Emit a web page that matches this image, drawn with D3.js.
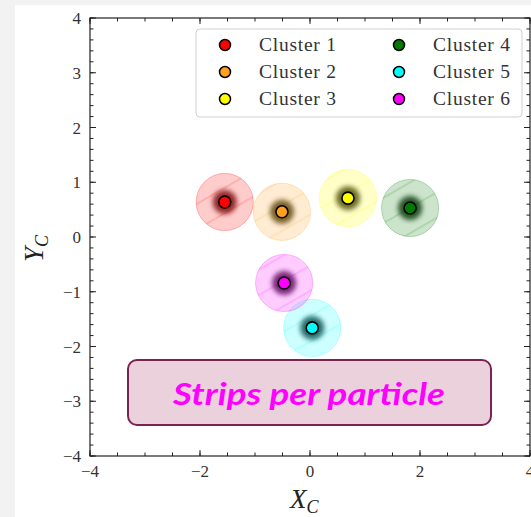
<!DOCTYPE html>
<html>
<head>
<meta charset="utf-8">
<script src="https://cdn.jsdelivr.net/npm/d3@7/dist/d3.min.js"></script>
<style>
  html, body { margin: 0; padding: 0; background: #f2f2f2; }
  svg { display: block; }
</style>
</head>
<body>
<svg id="chart" width="531" height="517"></svg>
<script>
// Cluster data
const clusterNames = ["Cluster 1", "Cluster 2", "Cluster 3", "Cluster 4", "Cluster 5", "Cluster 6"];
const centerX = [-1.55, -0.51, 0.69, 1.82, 0.04, -0.47];
const centerY = [0.64, 0.46, 0.71, 0.53, -1.66, -0.84];
const spread = [0.52, 0.52, 0.52, 0.52, 0.52, 0.52];
const clusterColors = ["#ff0000", "#ffa01e", "#ffff00", "#007a00", "#00ffff", "#ff00ff"];
const haloColors = ["#7a0000", "#5a4000", "#4a4a00", "#003000", "#004a4a", "#5a005a"];
const xTicks = [-4, -2, 0, 2, 4];
const yTicks = [-4, -3, -2, -1, 0, 1, 2, 3, 4];
const boxLabel = "Strips per particle";

const svg = d3.select("#chart");
const W = 531, H = 517;

// white page panel
svg.append("rect").attr("x", 15).attr("y", 5).attr("width", W - 15).attr("height", H - 5).attr("fill", "#ffffff");

const x = d3.scaleLinear().domain([-4, 4]).range([90, 530]);
const y = d3.scaleLinear().domain([-4, 4]).range([456, 18]);

const defs = svg.append("defs");
defs.append("filter").attr("id", "soft").attr("x", "-50%").attr("y", "-50%").attr("width", "200%").attr("height", "200%")
  .append("feGaussianBlur").attr("stdDeviation", 2.4);
defs.append("clipPath").attr("id", "plotClip")
  .append("rect").attr("x", x(-4)).attr("y", y(4)).attr("width", x(4) - x(-4)).attr("height", y(-4) - y(4));

// hatch pattern per cluster
clusterColors.forEach((c, i) => {
  const p = defs.append("pattern").attr("id", "hatch" + i).attr("patternUnits", "userSpaceOnUse")
    .attr("width", 22).attr("height", 22).attr("patternTransform", "rotate(-30)");
  p.append("line").attr("x1", 0).attr("y1", 11).attr("x2", 22).attr("y2", 11)
    .attr("stroke", c).attr("stroke-opacity", 0.28).attr("stroke-width", 1);
});

const plot = svg.append("g").attr("clip-path", "url(#plotClip)");
const rPx = d => x(d) - x(0);
const idx = d3.range(clusterNames.length);

// spread circles
plot.selectAll("circle.spread").data(idx).join("circle")
  .attr("class", "spread")
  .attr("cx", i => x(centerX[i])).attr("cy", i => y(centerY[i])).attr("r", i => rPx(spread[i]))
  .attr("fill", i => clusterColors[i]).attr("fill-opacity", i => i === 2 ? 0.22 : 0.2)
  .attr("stroke", i => clusterColors[i]).attr("stroke-opacity", 0.25).attr("stroke-width", 1);
plot.selectAll("circle.hatch").data(idx).join("circle")
  .attr("class", "hatch")
  .attr("cx", i => x(centerX[i])).attr("cy", i => y(centerY[i])).attr("r", i => rPx(spread[i]))
  .attr("fill", i => `url(#hatch${i})`);

// dense halo of per-particle points around each centre
plot.selectAll("circle.halo").data(idx).join("circle")
  .attr("class", "halo")
  .attr("cx", i => x(centerX[i])).attr("cy", i => y(centerY[i])).attr("r", 12)
  .attr("fill", i => haloColors[i]).attr("opacity", 0.8).attr("filter", "url(#soft)");

// centre markers
plot.selectAll("circle.center").data(idx).join("circle")
  .attr("class", "center")
  .attr("cx", i => x(centerX[i])).attr("cy", i => y(centerY[i])).attr("r", 6)
  .attr("fill", i => clusterColors[i]).attr("stroke", "#000").attr("stroke-width", 1.6);

// inward ticks on all four sides
const range = (from, to, step) => d3.range(Math.round((to - from) / step) + 1).map(k => from + k * step);
const xMinor = range(-4, 4, 0.5), xMajor = range(-4, 4, 2);
const yMinor = range(-4, 4, 0.2), yMajor = range(-4, 4, 1);
const L = { major: 6, minor: 3.5 };
const axisG = svg.append("g").attr("stroke", "#222").attr("stroke-width", 1);
function tick(x1, y1, x2, y2) { axisG.append("line").attr("x1", x1).attr("y1", y1).attr("x2", x2).attr("y2", y2); }
xMinor.forEach(v => { tick(x(v), y(-4), x(v), y(-4) - L.minor); tick(x(v), y(4), x(v), y(4) + L.minor); });
xMajor.forEach(v => { tick(x(v), y(-4), x(v), y(-4) - L.major); tick(x(v), y(4), x(v), y(4) + L.major); });
yMinor.forEach(v => { tick(x(-4), y(v), x(-4) + L.minor, y(v)); tick(x(4), y(v), x(4) - L.minor, y(v)); });
yMajor.forEach(v => { tick(x(-4), y(v), x(-4) + L.major, y(v)); tick(x(4), y(v), x(4) - L.major, y(v)); });
svg.append("rect").attr("x", x(-4)).attr("y", y(4)).attr("width", x(4) - x(-4)).attr("height", y(-4) - y(4))
  .attr("fill", "none").attr("stroke", "#222").attr("stroke-width", 1.2);

const fmt = v => (v < 0 ? "\u2212" + Math.abs(v) : String(v));
const serif = "'Liberation Serif', 'DejaVu Serif', serif";
svg.append("g").selectAll("text").data(xTicks).join("text")
  .attr("x", v => x(v)).attr("y", 477).attr("text-anchor", "middle")
  .attr("font-family", serif).attr("font-size", 17).attr("fill", "#333").text(fmt);
svg.append("g").selectAll("text").data(yTicks).join("text")
  .attr("x", 81).attr("y", v => y(v) + 6).attr("text-anchor", "end")
  .attr("font-family", serif).attr("font-size", 17).attr("fill", "#333").text(fmt);

// axis titles
const xl = svg.append("text").attr("x", 290).attr("y", 508).attr("font-family", serif)
  .attr("font-style", "italic").attr("font-size", 27).attr("fill", "#222");
xl.append("tspan").text("X");
xl.append("tspan").attr("font-size", 18).attr("dy", 5).text("C");
const yl = svg.append("text").attr("transform", "translate(43,262) rotate(-90)").attr("font-family", serif)
  .attr("font-style", "italic").attr("font-size", 27).attr("fill", "#222");
yl.append("tspan").text("Y");
yl.append("tspan").attr("font-size", 18).attr("dy", 5).text("C");

// legend
const lg = svg.append("g");
lg.append("rect").attr("x", 196).attr("y", 29).attr("width", 326).attr("height", 88).attr("rx", 4)
  .attr("fill", "#fff").attr("fill-opacity", 0.85).attr("stroke", "#d0d0d0").attr("stroke-width", 1);
idx.forEach(i => {
  const col = Math.floor(i / 3), row = i % 3;
  const mx = col === 0 ? 225 : 399, my = 45 + row * 27;
  lg.append("circle").attr("cx", mx).attr("cy", my).attr("r", 5.5)
    .attr("fill", clusterColors[i]).attr("stroke", "#000").attr("stroke-width", 1.5);
  lg.append("text").attr("x", mx + 34).attr("y", my + 6).attr("font-family", serif).attr("font-size", 19.5)
    .attr("fill", "#333").attr("textLength", 77).attr("lengthAdjust", "spacing").text(clusterNames[i]);
});

// annotation box
svg.append("rect").attr("x", 128).attr("y", 360).attr("width", 363).attr("height", 65).attr("rx", 9)
  .attr("fill", "#ead1dc").attr("stroke", "#7b2350").attr("stroke-width", 2);
svg.append("text").attr("x", 309).attr("y", 405).attr("text-anchor", "middle")
  .attr("font-family", "Lato, 'Open Sans', sans-serif").attr("font-weight", "bold").attr("font-style", "italic")
  .attr("font-size", 30).attr("fill", "#ff00ff").attr("textLength", 272).attr("lengthAdjust", "spacingAndGlyphs")
  .text(boxLabel);
</script>
</body>
</html>
